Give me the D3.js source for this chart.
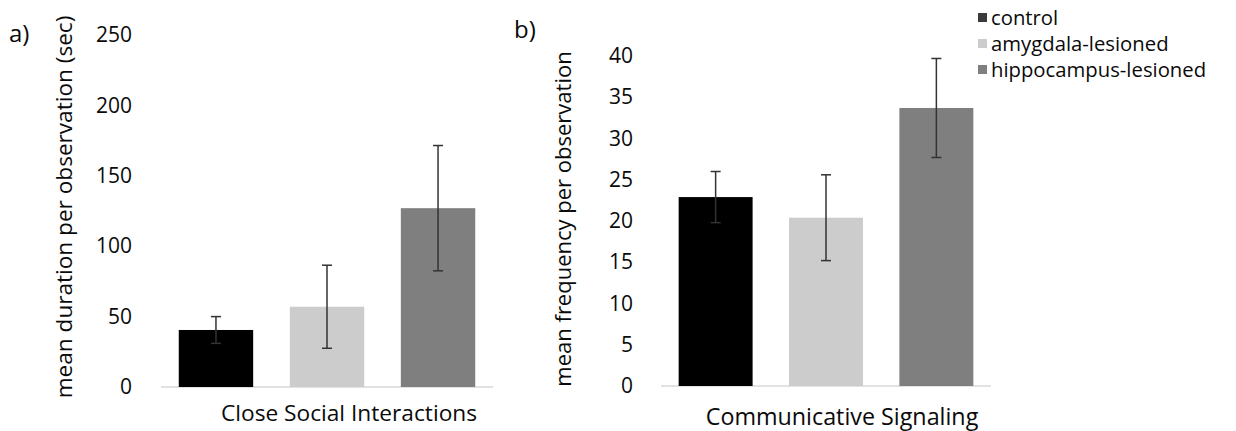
<!DOCTYPE html>
<html>
<head>
<meta charset="utf-8">
<script src="https://cdn.jsdelivr.net/npm/d3@7"></script>
<style>
  body { margin: 0; background: #fff; }
  svg text { font-family: "Open Sans", sans-serif; fill: #0a0a0a; }
</style>
</head>
<body>
<svg id="chart" width="1236" height="431"></svg>
<script>
const groups = ['control', 'amygdala-lesioned', 'hippocampus-lesioned'];
const groupColors = ['#000000', '#cccccc', '#7f7f7f'];

// panel a) close social interactions, seconds
const durationMeans = [40.5, 57, 127];
const durationErrors = [9.5, 29.5, 44.5];
const durationTicks = [0, 50, 100, 150, 200, 250];

// panel b) communicative signaling, counts
const frequencyMeans = [22.9, 20.4, 33.7];
const frequencyErrors = [3.1, 5.2, 6.0];
const frequencyTicks = [0, 5, 10, 15, 20, 25, 30, 35, 40];

const svg = d3.select('#chart');
const color = d3.scaleOrdinal().domain(groups).range(groupColors);

function drawPanel(opts) {
    const g = svg.append('g').attr('class', 'panel');

    const x = d3.scaleBand()
        .domain(groups)
        .range([opts.left, opts.right])
        .paddingInner(0.33)
        .paddingOuter(0.16);

    const y = d3.scaleLinear()
        .domain([0, d3.max(opts.ticks)])
        .range([opts.bottom, opts.top]);

    const yAxis = d3.axisLeft(y).tickValues(opts.ticks).tickSize(0).tickPadding(0);
    g.append('g')
        .attr('class', 'y-axis')
        .attr('transform', `translate(${opts.tickX},0)`)
        .call(yAxis)
        .call(a => a.select('.domain').remove())
        .selectAll('text')
        .attr('fill', '#0a0a0a')
        .style('font-size', '21px')
        .style('font-family', '"Open Sans", sans-serif');

    // baseline
    g.append('line')
        .attr('x1', opts.left).attr('x2', opts.right)
        .attr('y1', y(0)).attr('y2', y(0))
        .attr('stroke', '#d9d9d9')
        .attr('stroke-width', 1.5);

    const rows = groups.map((k, i) => ({ key: k, mean: opts.means[i], err: opts.errors[i] }));

    g.selectAll('rect.bar')
        .data(rows)
        .enter().append('rect')
        .attr('class', 'bar')
        .attr('x', d => x(d.key))
        .attr('width', x.bandwidth())
        .attr('y', d => y(d.mean))
        .attr('height', d => y(0) - y(d.mean))
        .attr('fill', d => color(d.key));

    // error bars
    const eb = g.selectAll('g.err')
        .data(rows)
        .enter().append('g')
        .attr('class', 'err')
        .attr('stroke', '#333')
        .attr('stroke-width', 1.5);
    eb.append('line')
        .attr('x1', d => x(d.key) + x.bandwidth() / 2)
        .attr('x2', d => x(d.key) + x.bandwidth() / 2)
        .attr('y1', d => y(d.mean + d.err))
        .attr('y2', d => y(d.mean - d.err));
    eb.selectAll('line.cap')
        .data(d => [d.mean + d.err, d.mean - d.err].map(v => ({ key: d.key, v })))
        .enter().append('line')
        .attr('class', 'cap')
        .attr('x1', d => x(d.key) + x.bandwidth() / 2 - 5)
        .attr('x2', d => x(d.key) + x.bandwidth() / 2 + 5)
        .attr('y1', d => y(d.v))
        .attr('y2', d => y(d.v));

    // category label under bars
    g.append('text')
        .attr('x', opts.catX)
        .attr('y', opts.catY)
        .attr('text-anchor', 'middle')
        .style('font-size', opts.catSize)
        .text(opts.category);

    // y title
    g.append('text')
        .attr('transform', `translate(${opts.titleX},${opts.titleY}) rotate(-90)`)
        .attr('text-anchor', 'middle')
        .attr('dominant-baseline', 'central')
        .style('font-size', opts.titleSize)
        .text(opts.yTitle);

    // panel letter
    g.append('text')
        .attr('x', opts.letterX)
        .attr('y', opts.letterY)
        .style('font-size', '24px')
        .text(opts.letter);
}

drawPanel({
    left: 161, right: 493, top: 35, bottom: 387,
    tickX: 132,
    ticks: durationTicks, means: durationMeans, errors: durationErrors,
    category: 'Close Social Interactions', catX: 349, catY: 421, catSize: '22.7px',
    yTitle: 'mean duration per observation (sec)', titleX: 63, titleY: 207, titleSize: '22.6px',
    letter: 'a)', letterX: 9, letterY: 42
});

drawPanel({
    left: 661, right: 991, top: 56, bottom: 386,
    tickX: 633,
    ticks: frequencyTicks, means: frequencyMeans, errors: frequencyErrors,
    category: 'Communicative Signaling', catX: 842, catY: 425, catSize: '23.3px',
    yTitle: 'mean frequency per observation', titleX: 562, titleY: 219, titleSize: '22px',
    letter: 'b)', letterX: 514, letterY: 38
});

// legend
const legend = svg.append('g')
    .attr('class', 'legend')
    .attr('transform', 'translate(978,17)');
const item = legend.selectAll('g.item')
    .data(groups)
    .enter().append('g')
    .attr('class', 'item')
    .attr('transform', (d, i) => `translate(0,${i * 26})`);
item.append('rect')
    .attr('x', 0).attr('y', -4)
    .attr('width', 9).attr('height', 9)
    .attr('fill', (d, i) => i === 0 ? '#3a3a3a' : color(d));
item.append('text')
    .attr('x', 13)
    .attr('y', 0)
    .attr('dominant-baseline', 'central')
    .style('font-size', '20.3px')
    .text(d => d);
</script>
</body>
</html>
